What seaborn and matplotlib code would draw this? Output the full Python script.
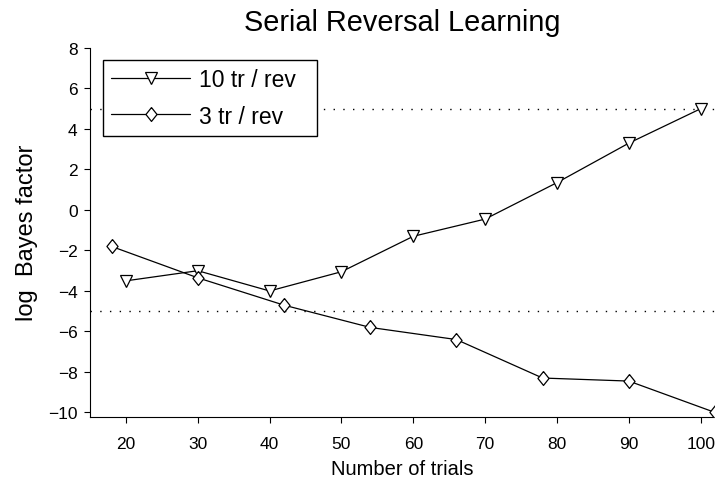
import matplotlib
matplotlib.use("Agg")
import matplotlib.pyplot as plt
import seaborn as sns
import pandas as pd

# Data
trials_10 = [20, 30, 40, 50, 60, 70, 80, 90, 100]
bf_10 = [-3.5, -3.0, -4.0, -3.05, -1.3, -0.45, 1.35, 3.3, 5.0]
trials_3 = [18, 30, 42, 54, 66, 78, 90, 102]
bf_3 = [-1.8, -3.35, -4.7, -5.8, -6.4, -8.3, -8.45, -10.0]
series_labels = ["10 tr / rev", "3 tr / rev"]
thresholds = [5, -5]
x_ticks = [20, 30, 40, 50, 60, 70, 80, 90, 100]
y_ticks = [-10, -8, -6, -4, -2, 0, 2, 4, 6, 8]

sns.set_style("ticks")
plt.rcParams['font.family'] = ['Liberation Sans', 'DejaVu Sans']
plt.rcParams['axes.unicode_minus'] = True
for k in ("text.color", "axes.labelcolor", "xtick.color", "ytick.color",
          "axes.edgecolor"):
    plt.rcParams[k] = "black"

fig = plt.figure(figsize=(7.15, 4.85), dpi=100)
ax = fig.add_axes([90 / 715, 67.5 / 485, 625 / 715, 368.5 / 485])

df10 = pd.DataFrame({"x": trials_10, "y": bf_10})
df3 = pd.DataFrame({"x": trials_3, "y": bf_3})

for y in thresholds:
    ax.axhline(y, color="black", lw=1.0, linestyle=(0, (1, 6)), zorder=1)

diamond = [(0, 1), (0.8, 0), (0, -1), (-0.8, 0), (0, 1)]

sns.lineplot(data=df10, x="x", y="y", ax=ax, color="black", lw=0.9,
             marker="v", markersize=9, markerfacecolor="white",
             markeredgecolor="black", markeredgewidth=0.9, zorder=3)
sns.lineplot(data=df3, x="x", y="y", ax=ax, color="black", lw=0.9,
             marker=diamond, markersize=10, markerfacecolor="white",
             markeredgecolor="black", markeredgewidth=0.9, zorder=3)

data_lines = [l for l in ax.get_lines() if len(l.get_xdata()) > 2]
for l in data_lines:
    l.set_markerfacecolor("white")
    l.set_markeredgecolor("black")

ax.set_xlim(15, 102)
ax.set_ylim(-10.2, 8)
ax.set_xticks(x_ticks)
ax.set_yticks(y_ticks)
ax.tick_params(axis="both", direction="out", length=4, width=0.8,
               labelsize=12.5, colors="black")
ax.tick_params(axis="x", pad=10)
ax.tick_params(axis="y", pad=5)
sns.despine(ax=ax)
for s in ("left", "bottom"):
    ax.spines[s].set_color("black")
    ax.spines[s].set_linewidth(0.8)

ax.set_xlabel("Number of trials", fontsize=14.5, labelpad=6)
ax.set_ylabel("log  Bayes factor", fontsize=17, labelpad=7)
ax.set_title("Serial Reversal Learning", fontsize=20.8, pad=13)

top = 1 - 11.5 / 368.5
leg = ax.legend(data_lines, series_labels, loc="upper left",
                bbox_to_anchor=(13 / 625, top - 0.01, 214 / 625, 0.01),
                mode="expand", borderaxespad=0,
                fontsize=16.5, frameon=True, fancybox=False, framealpha=1,
                edgecolor="black", handlelength=3.45, handletextpad=0.4,
                labelspacing=0.6, borderpad=0.36)
leg.get_frame().set_linewidth(1.0)

fig.savefig("out.png", dpi=100)
